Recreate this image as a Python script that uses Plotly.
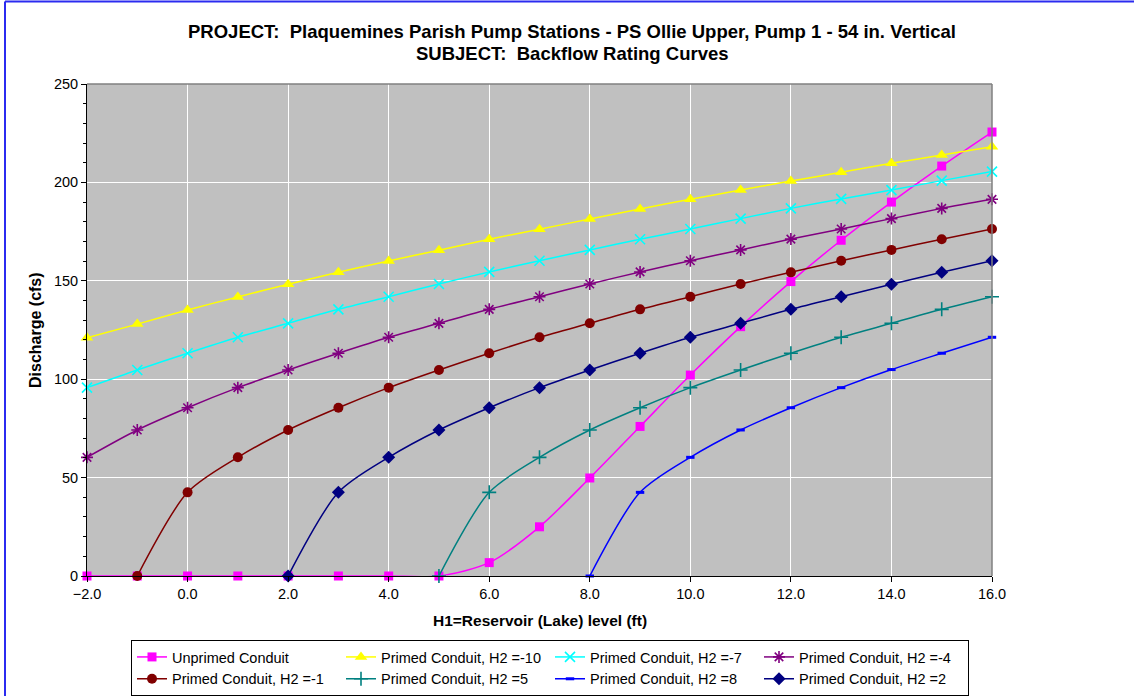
import plotly.graph_objects as go

# ---- data ----
x_unprimed = [-2, -1, 0, 1, 2, 3, 4, 5, 6, 7, 8, 9, 10, 11, 12, 13, 14, 15, 16]
y_unprimed = [0, 0, 0, 0, 0, 0, 0, 0, 6.8, 25.0, 49.8, 76.0, 102.1, 126.7, 149.6, 170.6, 190.0, 208.3, 225.6]

x_h2_m10 = [-2, -1, 0, 1, 2, 3, 4, 5, 6, 7, 8, 9, 10, 11, 12, 13, 14, 15, 16]
y_h2_m10 = [121.1, 128.0, 135.2, 141.8, 148.2, 154.3, 160.1, 165.5, 171.1, 176.2, 181.4, 186.5, 191.4, 196.1, 200.7, 205.1, 209.7, 213.9, 218.1]

x_h2_m7 = [-2, -1, 0, 1, 2, 3, 4, 5, 6, 7, 8, 9, 10, 11, 12, 13, 14, 15, 16]
y_h2_m7 = [95.7, 104.7, 113.2, 121.3, 128.4, 135.5, 141.9, 148.4, 154.5, 160.2, 165.7, 171.1, 176.3, 181.6, 186.8, 191.6, 196.1, 200.9, 205.5]

x_h2_m4 = [-2, -1, 0, 1, 2, 3, 4, 5, 6, 7, 8, 9, 10, 11, 12, 13, 14, 15, 16]
y_h2_m4 = [60.3, 74.2, 85.5, 95.7, 104.7, 113.2, 121.3, 128.4, 135.5, 141.9, 148.4, 154.5, 160.2, 165.7, 171.2, 176.3, 181.6, 186.8, 191.4]

x_h2_m1 = [-1, 0, 1, 2, 3, 4, 5, 6, 7, 8, 9, 10, 11, 12, 13, 14, 15, 16]
y_h2_m1 = [0, 42.5, 60.3, 74.2, 85.5, 95.7, 104.7, 113.2, 121.3, 128.4, 135.5, 141.9, 148.4, 154.3, 160.2, 165.7, 171.1, 176.3]

x_h2_5 = [5, 6, 7, 8, 9, 10, 11, 12, 13, 14, 15, 16]
y_h2_5 = [0, 42.5, 60.3, 74.2, 85.5, 95.7, 104.7, 113.2, 121.3, 128.4, 135.5, 141.9]

x_h2_8 = [8, 9, 10, 11, 12, 13, 14, 15, 16]
y_h2_8 = [0, 42.5, 60.3, 74.2, 85.5, 95.7, 104.9, 113.2, 121.3]

x_h2_2 = [2, 3, 4, 5, 6, 7, 8, 9, 10, 11, 12, 13, 14, 15, 16]
y_h2_2 = [0, 42.5, 60.3, 74.2, 85.5, 95.7, 104.7, 113.2, 121.3, 128.4, 135.5, 141.9, 148.2, 154.3, 160.2]

series_names = [
    "Unprimed Conduit",
    "Primed Conduit, H2 =-10",
    "Primed Conduit, H2 =-7",
    "Primed Conduit, H2 =-4",
    "Primed Conduit, H2 =-1",
    "Primed Conduit, H2 =5",
    "Primed Conduit, H2 =8",
    "Primed Conduit, H2 =2",
]

title_lines = [
    "PROJECT:  Plaquemines Parish Pump Stations - PS Ollie Upper, Pump 1 - 54 in. Vertical",
    "SUBJECT:  Backflow Rating Curves",
]
x_title = "H1=Reservoir (Lake) level (ft)"
y_title = "Discharge (cfs)"

FONT = "Liberation Sans, Arial, sans-serif"

styles = [
    dict(color="#FF00FF", marker=dict(symbol="square", size=9, color="#FF00FF")),
    dict(color="#FFFF00", marker=dict(symbol="triangle-up", size=11, color="#FFFF00")),
    dict(color="#00FFFF", marker=dict(symbol="x-thin-open", size=10, color="#00FFFF",
                                      line=dict(color="#00FFFF", width=1.6))),
    dict(color="#800080", marker=dict(symbol="asterisk-open", size=10, color="#800080",
                                      line=dict(color="#800080", width=1.6))),
    dict(color="#800000", marker=dict(symbol="circle", size=10, color="#800000")),
    dict(color="#008080", marker=dict(symbol="cross-thin-open", size=10, color="#008080",
                                      line=dict(color="#008080", width=1.6))),
    dict(color="#0000FF", marker=dict(symbol="line-ew-open", size=6, color="#0000FF",
                                      line=dict(color="#0000FF", width=3))),
    dict(color="#000080", marker=dict(symbol="diamond", size=10, color="#000080")),
]

data = [
    (x_unprimed, y_unprimed),
    (x_h2_m10, y_h2_m10),
    (x_h2_m7, y_h2_m7),
    (x_h2_m4, y_h2_m4),
    (x_h2_m1, y_h2_m1),
    (x_h2_5, y_h2_5),
    (x_h2_8, y_h2_8),
    (x_h2_2, y_h2_2),
]

fig = go.Figure()
for (xs, ys), name, st in zip(data, series_names, styles):
    fig.add_trace(go.Scatter(
        x=xs, y=ys, name=name, mode="lines+markers",
        line=dict(color=st["color"], width=1.5, shape="spline", smoothing=0.8),
        marker=st["marker"], cliponaxis=False,
    ))

W, H = 1134, 696
L, R, T, B = 87, 992, 84, 576
pw, ph = R - L, B - T

def px(xp):
    return (xp - L) / pw

def py(yp):
    return (B - yp) / ph

fig.update_layout(
    width=W, height=H,
    margin=dict(l=L, r=W - R, t=T, b=H - B, autoexpand=False),
    paper_bgcolor="white",
    plot_bgcolor="#C0C0C0",
    font=dict(family=FONT, size=14, color="black"),
    showlegend=True,
    legend=dict(
        orientation="h", x=px(131), y=py(640), xanchor="left", yanchor="top",
        bordercolor="black", borderwidth=1, bgcolor="white",
        entrywidth=164, entrywidthmode="pixels",
        font=dict(family=FONT, size=14.5, color="black"),
        tracegroupgap=0, itemwidth=30,
    ),
    xaxis=dict(
        range=[-2, 16], dtick=2, tick0=0, tickformat=".1f",
        showgrid=True, gridcolor="white", gridwidth=1,
        zeroline=False, showline=True, linecolor="black", linewidth=1,
        ticks="outside", ticklen=5, tickcolor="black",
        tickfont=dict(family=FONT, size=14.5, color="black"),
    ),
    yaxis=dict(
        range=[0, 250], dtick=50, tick0=0,
        showgrid=True, gridcolor="white", gridwidth=1,
        zeroline=False, showline=True, linecolor="black", linewidth=1,
        ticks="outside", ticklen=5, tickcolor="black",
        minor=dict(dtick=10, ticks="outside", ticklen=3, tickcolor="black", showgrid=False),
        tickfont=dict(family=FONT, size=14.5, color="black"),
    ),
)

# gray border on top/right of the plot area
fig.add_shape(type="line", xref="paper", yref="paper", x0=0, x1=1, y0=1, y1=1,
              line=dict(color="#808080", width=1.5))
fig.add_shape(type="line", xref="paper", yref="paper", x0=1, x1=1, y0=0, y1=1,
              line=dict(color="#808080", width=1.5))

# outer blue chart border (left & top visible)
fig.add_shape(type="line", xref="paper", yref="paper", x0=px(5), x1=px(5), y0=py(700), y1=py(1.5),
              line=dict(color="#2B2BF0", width=2))
fig.add_shape(type="line", xref="paper", yref="paper", x0=px(5), x1=px(1140), y0=py(1.5), y1=py(1.5),
              line=dict(color="#2B2BF0", width=2))

# titles
fig.add_annotation(text="<b>" + title_lines[0] + "</b>", xref="paper", yref="paper",
                   x=px(572), y=py(31), xanchor="center", yanchor="middle", showarrow=False,
                   font=dict(family=FONT, size=18.5, color="black"))
fig.add_annotation(text="<b>" + title_lines[1] + "</b>", xref="paper", yref="paper",
                   x=px(572), y=py(53), xanchor="center", yanchor="middle", showarrow=False,
                   font=dict(family=FONT, size=18.5, color="black"))
fig.add_annotation(text="<b>" + x_title + "</b>", xref="paper", yref="paper",
                   x=px(540), y=py(620), xanchor="center", yanchor="middle", showarrow=False,
                   font=dict(family=FONT, size=15.5, color="black"))
fig.add_annotation(text="<b>" + y_title + "</b>", xref="paper", yref="paper",
                   x=px(35), y=py(330), xanchor="center", yanchor="middle", showarrow=False,
                   textangle=-90, font=dict(family=FONT, size=16, color="black"))

fig.write_html(
    "out.html",
    config={"displayModeBar": False},
    post_script="document.body.style.margin='0';document.body.style.overflow='hidden';",
)
